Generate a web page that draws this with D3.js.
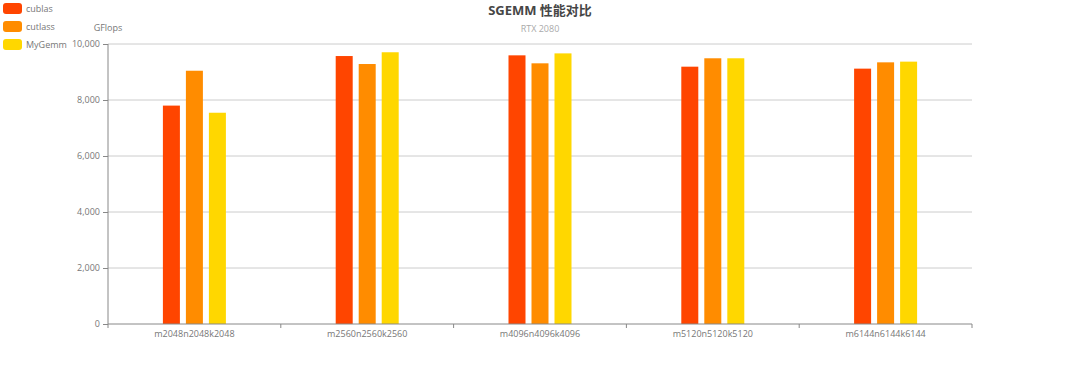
<!DOCTYPE html>
<html><head><meta charset="utf-8">
<script src="https://cdn.jsdelivr.net/npm/d3@7"></script>
<style>body{margin:0;background:#fff;} text{font-family:"Open Sans","Noto Sans CJK SC",sans-serif;}</style>
</head><body><svg id="c" width="1080" height="368"></svg>
<script>
const categories = ["m2048n2048k2048","m2560n2560k2560","m4096n4096k4096","m5120n5120k5120","m6144n6144k6144"];
const seriesNames = ["cublas","cutlass","MyGemm"];
const cublas = [7800, 9570, 9595, 9190, 9120];
const cutlass = [9045, 9285, 9310, 9490, 9345];
const mygemm = [7545, 9705, 9665, 9490, 9370];
const yTicks = [0, 2000, 4000, 6000, 8000, 10000];
const colors = ["#ff4500", "#ff8c00", "#ffd700"];
const seriesData = [cublas, cutlass, mygemm];

const svg = d3.select("#c");
const m = {l:108, r:972, t:44, b:324};
const x = d3.scaleBand().domain(categories).range([m.l, m.r]);
const y = d3.scaleLinear().domain([0, 10000]).range([m.b, m.t]);
const barW = 17, gap = 6;

// grid
svg.append("g").selectAll("line").data(yTicks.filter(d=>d>0)).join("line")
  .attr("x1", m.l).attr("x2", m.r).attr("y1", d=>y(d)).attr("y2", d=>y(d))
  .attr("stroke", "#ccc").attr("stroke-width", 1);

// bars
seriesData.forEach((arr, si) => {
  svg.append("g").selectAll("rect").data(arr).join("rect")
    .attr("x", (d,i) => x(categories[i]) + x.bandwidth()/2 - (3*barW+2*gap)/2 + si*(barW+gap))
    .attr("y", d => y(d)).attr("width", barW).attr("height", d => y(0)-y(d))
    .attr("fill", colors[si]);
});

// y axis
const ya = svg.append("g").attr("transform", `translate(${m.l},0)`)
  .call(d3.axisLeft(y).tickValues(yTicks).tickFormat(d3.format(",")).tickSize(5).tickPadding(3));
ya.select(".domain").attr("stroke", "#888").attr("d", `M-0,${m.t}V${m.b}`);
ya.selectAll(".tick line").attr("stroke", "#888");
ya.selectAll("text").attr("fill", "#777").attr("font-size", 9);

// x axis
const xa = svg.append("g").attr("transform", `translate(0,${m.b})`);
xa.append("line").attr("x1", m.l).attr("x2", m.r).attr("stroke", "#888");
const bounds = categories.map(c => x(c)).concat([m.r]);
xa.selectAll(".tk").data(bounds).join("line").attr("class","tk")
  .attr("x1", d=>d).attr("x2", d=>d).attr("y1", 0).attr("y2", 4).attr("stroke", "#888");
xa.selectAll("text").data(categories).join("text")
  .attr("x", d => x(d) + x.bandwidth()/2).attr("y", 13)
  .attr("text-anchor", "middle").attr("fill", "#777").attr("font-size", 9).text(d=>d);

// axis name
svg.append("text").attr("x", 108).attr("y", 31).attr("text-anchor","middle")
  .attr("fill","#777").attr("font-size",9).text("GFlops");

// title
svg.append("text").attr("x", 540).attr("y", 15).attr("text-anchor","middle")
  .attr("fill","#464646").attr("font-size",13).attr("font-weight","bold").text("SGEMM 性能对比");
svg.append("text").attr("x", 540).attr("y", 32).attr("text-anchor","middle")
  .attr("fill","#aaa").attr("font-size",9).text("RTX 2080");

// legend
const lg = svg.append("g").selectAll("g").data(seriesNames).join("g")
  .attr("transform", (d,i) => `translate(3,${3 + i*18})`);
lg.append("rect").attr("width", 19).attr("height", 11).attr("rx", 3).attr("fill", (d,i)=>colors[i]);
lg.append("text").attr("x", 23).attr("y", 9).attr("fill","#777").attr("font-size",9).text(d=>d);
</script></body></html>
